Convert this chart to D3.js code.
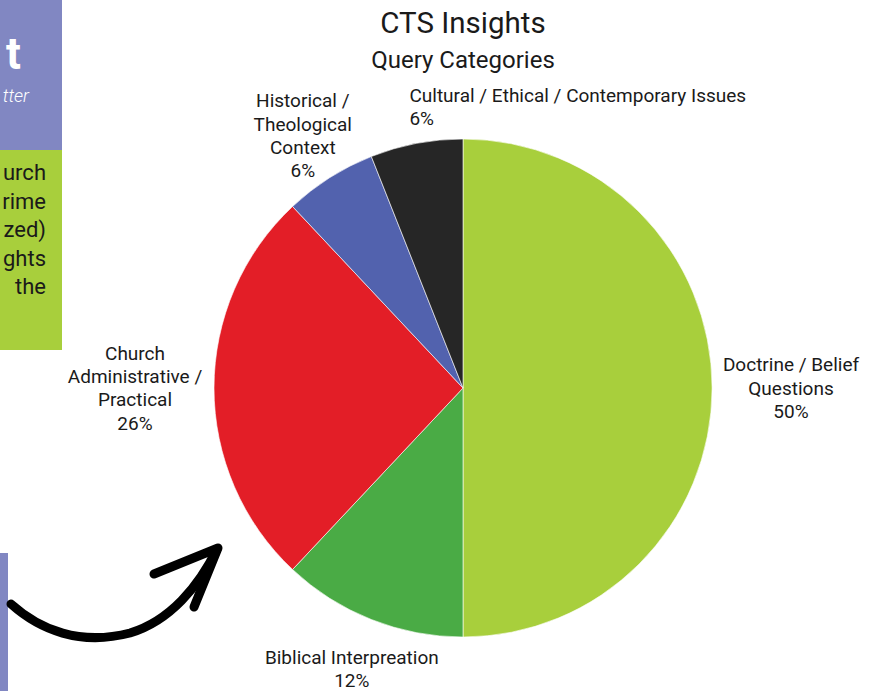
<!DOCTYPE html>
<html>
<head>
<meta charset="utf-8">
<script src="https://cdn.jsdelivr.net/npm/d3@7"></script>
<style>
  html, body { margin: 0; padding: 0; background: #ffffff; }
  svg { display: block; font-family: Roboto, "Noto Sans", sans-serif; }
</style>
</head>
<body>
<svg id="chart" width="878" height="691"></svg>
<script>
// ---- data ----
const categories = [
  ["Doctrine / Belief", "Questions"],
  ["Biblical Interpreation"],
  ["Church", "Administrative /", "Practical"],
  ["Historical /", "Theological", "Context"],
  ["Cultural / Ethical / Contemporary Issues"]
];
const values = [50, 12, 26, 6, 6];
const colors = ["#a8cf3c", "#4aab45", "#e31e27", "#5262ae", "#262626"];
const title = "CTS Insights";
const subtitle = "Query Categories";
const sideLines = ["urch", "rime", "zed)", "ghts", "the"];

// ---- layout ----
const W = 878, H = 691;
const cx = 463, cy = 388, R = 249;
const labelRadius = [328, 302, 328, 299, 286];
const labelAnchor = ["middle", "middle", "middle", "middle", "start"];
const lineH = 23.3;
const labelSize = 19;

const svg = d3.select("#chart");

// background fragments
svg.append("rect").attr("x", 0).attr("y", 0).attr("width", 62).attr("height", 150).attr("fill", "#8187c2");
svg.append("text").attr("x", 21).attr("y", 69).attr("text-anchor", "end")
  .attr("font-size", 44).attr("font-weight", 700).attr("fill", "#ffffff").text("t");
svg.append("text").attr("x", 29).attr("y", 102).attr("text-anchor", "end")
  .attr("font-size", 18).attr("font-style", "italic").attr("font-weight", 300)
  .attr("fill", "#ffffff").text("tter");
svg.append("rect").attr("x", 0).attr("y", 150).attr("width", 62).attr("height", 200).attr("fill", "#a8cf3c");
svg.append("g").selectAll("text").data(sideLines).join("text")
  .attr("x", 46).attr("y", (d, i) => 180 + i * 28.5)
  .attr("text-anchor", "end").attr("font-size", 22).attr("fill", "#1a1a1a").text(d => d);
svg.append("rect").attr("x", 0).attr("y", 553).attr("width", 8).attr("height", 138).attr("fill", "#8187c2");

// arrow
svg.append("path")
  .attr("d", "M11,604 C40,630 80,646 130,633 C170,621 199,586 217,549")
  .attr("fill", "none").attr("stroke", "#000").attr("stroke-width", 9)
  .attr("stroke-linecap", "round").attr("stroke-linejoin", "round");
svg.append("path")
  .attr("d", "M154,574 L218,548 L194,607")
  .attr("fill", "none").attr("stroke", "#000").attr("stroke-width", 9)
  .attr("stroke-linecap", "round").attr("stroke-linejoin", "round");

// titles
svg.append("text").attr("x", cx).attr("y", 33).attr("text-anchor", "middle")
  .attr("font-size", 29.5).attr("fill", "#1a1a1a").text(title);
svg.append("text").attr("x", cx).attr("y", 68).attr("text-anchor", "middle")
  .attr("font-size", 24).attr("fill", "#1a1a1a").text(subtitle);

// pie
const total = d3.sum(values);
const pie = d3.pie().sort(null).value(d => d.v).startAngle(0).endAngle(2 * Math.PI);
const arcs = pie(values.map((v, i) => ({ v, i })));
const arc = d3.arc().innerRadius(0).outerRadius(R);

const g = svg.append("g").attr("transform", `translate(${cx},${cy})`);
g.selectAll("path").data(arcs).join("path")
  .attr("d", arc)
  .attr("fill", d => colors[d.data.i])
  .attr("stroke", "#ffffff").attr("stroke-width", 0.6);

// labels
const lg = g.append("g");
arcs.forEach(d => {
  const i = d.data.i;
  const a = (d.startAngle + d.endAngle) / 2;
  const r = labelRadius[i];
  const x = Math.sin(a) * r;
  const y = -Math.cos(a) * r;
  const lines = categories[i].concat([d3.format(".0%")(d.data.v / total)]);
  const y0 = y - (lines.length - 1) * lineH / 2;
  const t = lg.append("text").attr("text-anchor", labelAnchor[i])
    .attr("font-size", labelSize).attr("fill", "#1a1a1a");
  lines.forEach((s, k) => {
    t.append("tspan").attr("x", x).attr("y", y0 + k * lineH).attr("dy", "0.35em").text(s);
  });
});
</script>
</body>
</html>
